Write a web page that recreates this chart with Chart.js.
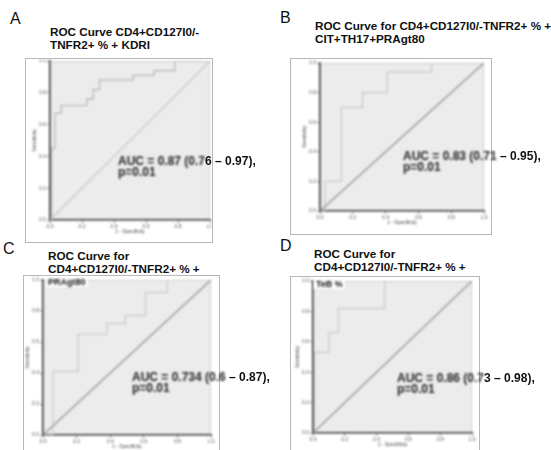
<!DOCTYPE html>
<html>
<head>
<meta charset="utf-8">
<script src="https://cdn.jsdelivr.net/npm/chart.js"></script>
<style>
  body { margin: 0; width: 551px; height: 450px; position: relative; overflow: hidden; background: #fff; font-family: 'Liberation Sans', Arial, sans-serif; color: #111; }
  .letter { position: absolute; font-size: 16px; line-height: 16px; }
  .title { position: absolute; font-size: 11.7px; font-weight: bold; line-height: 12.5px; white-space: nowrap; }
  .panel { position: absolute; border: 1px solid #b8b8b8; background: #fff; overflow: hidden; }
  .panel canvas { display: block; filter: blur(0.9px); }
  .auc { position: absolute; font-size: 12px; font-weight: bold; line-height: 11px; white-space: nowrap; }
  .soft { display: inline-block; filter: blur(1px); color: #222; }
  .tag { position: absolute; font-size: 9px; font-weight: bold; line-height: 10px; background: #fff; padding: 0 2px; filter: blur(0.9px); }
</style>
</head>
<body>

<div class="letter" style="left:10px;top:11px">A</div>
<div class="title" style="left:50px;top:26px">ROC Curve CD4+CD127I0/-<br>TNFR2+ % + KDRI</div>
<div class="panel" style="left:25px;top:58px"><canvas id="rocA" width="186" height="183"></canvas></div>
<div class="auc" style="left:118px;top:156px"><span class="soft">AUC = 0.87 (0.7</span>6 – 0.97),<br><span class="soft">p=0.01</span></div>

<div class="letter" style="left:280px;top:10px">B</div>
<div class="title" style="left:315px;top:20px">ROC Curve for CD4+CD127I0/-TNFR2+ % +<br>CIT+TH17+PRAgt80</div>
<div class="panel" style="left:290px;top:58px"><canvas id="rocB" width="200" height="175"></canvas></div>
<div class="auc" style="left:403px;top:151px"><span class="soft">AUC = 0.83 (0.71</span> – 0.95),<br><span class="soft">p=0.01</span></div>

<div class="letter" style="left:3px;top:241px">C</div>
<div class="title" style="left:48px;top:250px">ROC Curve for<br>CD4+CD127I0/-TNFR2+ % +</div>
<div class="panel" style="left:23px;top:275px"><canvas id="rocC" width="195" height="178"></canvas></div>
<div class="tag" style="left:46px;top:277px">PRAgt80</div>
<div class="auc" style="left:132px;top:372px"><span class="soft">AUC = 0.734 (0.6</span> – 0.87),<br><span class="soft">p=0.01</span></div>

<div class="letter" style="left:280px;top:238px">D</div>
<div class="title" style="left:314px;top:248px">ROC Curve for<br>CD4+CD127I0/-TNFR2+ % +</div>
<div class="panel" style="left:290px;top:276px"><canvas id="rocD" width="188" height="177"></canvas></div>
<div class="tag" style="left:314px;top:279px">TeB %</div>
<div class="auc" style="left:397px;top:373px"><span class="soft">AUC = 0.86 (0.7</span>3 – 0.98),<br><span class="soft">p=0.01</span></div>

<script>
Chart.defaults.font.family = "'Liberation Sans', Arial, sans-serif";

var tickLabels = ['0.0', '0.2', '0.4', '0.6', '0.8', '1.0'];
var chanceX = [0, 1];
var chanceY = [0, 1];

// ROC operating points: 1 - specificity, sensitivity
var fprA = [0, 0.01, 0.03, 0.07, 0.23, 0.27, 0.31, 0.52, 0.65, 0.78, 1];
var tprA = [0, 0.45, 0.67, 0.72, 0.76, 0.82, 0.88, 0.91, 0.94, 1.0, 1.0];

var fprB = [0, 0.03, 0.13, 0.26, 0.41, 0.68, 1];
var tprB = [0, 0.20, 0.70, 0.80, 0.94, 1.0, 1.0];

var fprC = [0, 0.06, 0.21, 0.38, 0.49, 0.61, 0.74, 1];
var tprC = [0, 0.41, 0.65, 0.72, 0.77, 0.92, 1.0, 1.0];

var fprD = [0, 0.01, 0.10, 0.16, 0.45, 1];
var tprD = [0, 0.53, 0.66, 0.82, 1.0, 1.0];

function toPoints(xs, ys) {
    return xs.map(function (x, i) { return { x: x, y: ys[i] }; });
}

// grey plot background and thin outline round the chart area
var plotFill = {
    id: 'plotFill',
    beforeDraw: function (chart) {
        var a = chart.chartArea;
        var c = chart.ctx;
        c.save();
        c.fillStyle = '#ececec';
        c.fillRect(a.left, a.top, a.right - a.left, a.bottom - a.top);
        c.strokeStyle = '#d0d0d0';
        c.lineWidth = 1;
        c.strokeRect(a.left + 0.5, a.top + 0.5, a.right - a.left - 1, a.bottom - a.top - 1);
        c.restore();
    }
};

function axis(titleText, fixSize) {
    return {
        type: 'linear',
        min: 0,
        max: 1,
        ticks: {
            stepSize: 0.2,
            font: { size: 5 },
            color: '#555',
            padding: 1,
            callback: function (v, i) { return tickLabels[i]; }
        },
        title: { display: true, text: titleText, font: { size: 5 }, color: '#444', padding: 0 },
        grid: { drawOnChartArea: false, tickLength: 3, color: '#888' },
        border: { color: '#333', width: 1.5 },
        afterFit: fixSize
    };
}

function rocChart(id, fpr, tpr, pad, curveColor, diagColor) {
    var ctx = document.getElementById(id).getContext('2d');
    return new Chart(ctx, {
        type: 'scatter',
        data: {
            datasets: [{
                data: toPoints(chanceX, chanceY),
                showLine: true,
                borderColor: diagColor,
                borderWidth: 1.5,
                pointRadius: 0
            }, {
                data: toPoints(fpr, tpr),
                showLine: true,
                stepped: 'before',
                borderColor: curveColor,
                borderWidth: 1.2,
                pointRadius: 0
            }]
        },
        options: {
            responsive: false,
            animation: false,
            layout: { padding: pad },
            plugins: { legend: { display: false }, tooltip: { enabled: false } },
            scales: {
                x: axis('1 - Specificity', function (s) { s.height = 15; s.paddingLeft = 0; s.paddingRight = 0; }),
                y: axis('Sensitivity', function (s) { s.width = 18; s.paddingTop = 0; s.paddingBottom = 0; })
            }
        },
        plugins: [plotFill]
    });
}

rocChart('rocA', fprA, tprA, { left: 6, top: 2, right: 2, bottom: 7 }, '#b4b4b4', '#cccccc');
rocChart('rocB', fprB, tprB, { left: 11, top: 4, right: 7, bottom: 8 }, '#c8c8c8', '#9c9c9c');
rocChart('rocC', fprC, tprC, { left: 1, top: 4, right: 8, bottom: 4 }, '#c8c8c8', '#9c9c9c');
rocChart('rocD', fprD, tprD, { left: 4, top: 4, right: 7, bottom: 6 }, '#c8c8c8', '#9c9c9c');
</script>
</body>
</html>
